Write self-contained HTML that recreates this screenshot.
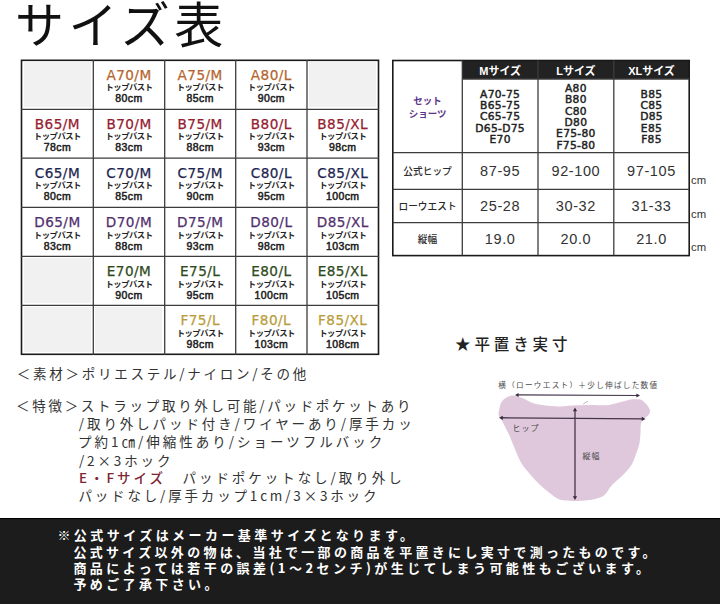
<!DOCTYPE html>
<html lang="ja">
<head>
<meta charset="utf-8">
<style>
*{margin:0;padding:0;box-sizing:border-box}
html,body{width:720px;height:604px;background:#fff;overflow:hidden}
body{position:relative;font-family:"Liberation Sans","Noto Sans CJK JP",sans-serif;color:#222}
.abs{position:absolute}
#title{left:15px;top:-8px;font-size:49px;letter-spacing:4.6px;font-weight:400;color:#111;line-height:60px;white-space:nowrap;font-family:"Noto Sans CJK JP",sans-serif}
.g{position:absolute;background:#f1f1f1}
.cell{position:absolute;text-align:center;line-height:1;white-space:nowrap}
.cell .s{display:block;font-family:"DejaVu Sans","Noto Sans CJK JP",sans-serif;font-size:13.6px;letter-spacing:0.45px;height:13px;line-height:13px;-webkit-text-stroke:0.25px}
.cell .t{display:block;font-family:"Noto Sans CJK JP",sans-serif;font-size:8.3px;font-weight:700;height:10px;line-height:10px;margin-top:1px;color:#222;letter-spacing:-0.45px;position:relative;top:-1.6px}
.cell .c{display:block;position:relative;top:0.5px;font-size:10.5px;font-weight:400;height:11px;line-height:11px;color:#222;-webkit-text-stroke:0.5px #222;letter-spacing:0.4px}
.ca{color:#b5652d}.cb{color:#952030}.cc{color:#1d2550}.cd{color:#52306f}.ce{color:#2e4a1c}.cf{color:#b99d3c}
.rc{position:absolute;display:flex;align-items:center;justify-content:center;text-align:center;white-space:nowrap}
.rh{color:#fff;font-weight:700;font-size:11px;font-family:"Liberation Sans","Noto Sans CJK JP",sans-serif}
.rset{color:#5c3589;font-weight:700;font-size:9.5px;line-height:12.5px;font-family:"Noto Sans CJK JP",sans-serif}
.rlist{color:#222;font-weight:400;font-size:10.7px;line-height:11.3px;font-family:"DejaVu Sans",sans-serif;padding-top:2.5px;-webkit-text-stroke:0.45px #222;letter-spacing:0.3px}
.rlab{color:#2a2a2a;font-weight:500;font-size:9.7px;font-family:"Noto Sans CJK JP",sans-serif}
.rnum{color:#333;font-size:14.5px;letter-spacing:0.6px;font-family:"Liberation Sans",sans-serif}
.cm{position:absolute;left:691px;font-size:11.3px;color:#333;line-height:11px}
.desc{position:absolute;font-family:"Noto Sans CJK JP",sans-serif;font-size:13.5px;color:#333;line-height:17.5px;white-space:nowrap}
.red{color:#7d2633;font-weight:500}
#star{left:455px;top:332.8px;font-size:15.5px;letter-spacing:3.9px;color:#222;font-weight:500;font-family:"Noto Sans CJK JP",sans-serif;white-space:nowrap;line-height:20px}
#banner{position:absolute;left:0;top:517.5px;width:720px;height:87px;background:#1c1c1c;border-top:1.2px solid #000}
.bl{position:absolute;font-family:"Noto Sans CJK JP",sans-serif;font-weight:700;color:#fff;font-size:13px;white-space:nowrap;line-height:16px}
.dl{font-family:"Noto Sans CJK JP",sans-serif;fill:#4a4a4a}
</style>
</head>
<body>
<div id="title" class="abs">サイズ表</div>
<div class="g" style="left:23.5px;top:61.6px;width:67.3px;height:45.9px"></div>
<div class="g" style="left:309.0px;top:61.6px;width:67.0px;height:45.9px"></div>
<div class="g" style="left:23.5px;top:257.6px;width:67.3px;height:45.8px"></div>
<div class="g" style="left:23.5px;top:306.6px;width:67.3px;height:45.8px"></div>
<div class="g" style="left:95.3px;top:306.6px;width:66.9px;height:45.8px"></div>
<div class="abs" style="left:462.3px;top:60.5px;width:226.9px;height:18.5px;background:#222"></div>
<svg class="abs" style="left:0;top:0" width="720" height="604">
 <g stroke="#3c3c3c" stroke-width="1.3" fill="none">
  <rect x="21.5" y="60.3" width="357.0" height="294.0" stroke-width="1.6" stroke="#1a1a1a"/>
  <line x1="93.3" y1="60" x2="93.3" y2="355"/>
<line x1="164.7" y1="60" x2="164.7" y2="355"/>
<line x1="235.7" y1="60" x2="235.7" y2="355"/>
<line x1="307" y1="60" x2="307" y2="355"/>
<line x1="21" y1="109.4" x2="379" y2="109.4"/>
<line x1="21" y1="158.1" x2="379" y2="158.1"/>
<line x1="21" y1="207.3" x2="379" y2="207.3"/>
<line x1="21" y1="256.3" x2="379" y2="256.3"/>
<line x1="21" y1="305.3" x2="379" y2="305.3"/>
  <rect x="392.8" y="60.5" width="296.4" height="195.1" stroke-width="1.6" stroke="#1a1a1a"/>
  <line x1="462.3" y1="60.5" x2="462.3" y2="255.6"/>
<line x1="538" y1="60.5" x2="538" y2="255.6"/>
<line x1="613.8" y1="60.5" x2="613.8" y2="255.6"/>
<line x1="462.3" y1="79" x2="689.2" y2="79"/>
<line x1="392.8" y1="152.6" x2="689.2" y2="152.6"/>
<line x1="392.8" y1="189.4" x2="689.2" y2="189.4"/>
<line x1="392.8" y1="222.6" x2="689.2" y2="222.6"/>
 </g>
</svg>
<div class="cell" style="left:93.3px;top:68.6px;width:71.4px"><span class="s ca">A70/M</span><span class="t">トップバスト</span><span class="c">80cm</span></div>
<div class="cell" style="left:164.7px;top:68.6px;width:71.0px"><span class="s ca">A75/M</span><span class="t">トップバスト</span><span class="c">85cm</span></div>
<div class="cell" style="left:235.7px;top:68.6px;width:71.3px"><span class="s ca">A80/L</span><span class="t">トップバスト</span><span class="c">90cm</span></div>
<div class="cell" style="left:21.5px;top:117.6px;width:71.8px"><span class="s cb">B65/M</span><span class="t">トップバスト</span><span class="c">78cm</span></div>
<div class="cell" style="left:93.3px;top:117.6px;width:71.4px"><span class="s cb">B70/M</span><span class="t">トップバスト</span><span class="c">83cm</span></div>
<div class="cell" style="left:164.7px;top:117.6px;width:71.0px"><span class="s cb">B75/M</span><span class="t">トップバスト</span><span class="c">88cm</span></div>
<div class="cell" style="left:235.7px;top:117.6px;width:71.3px"><span class="s cb">B80/L</span><span class="t">トップバスト</span><span class="c">93cm</span></div>
<div class="cell" style="left:307.0px;top:117.6px;width:71.5px"><span class="s cb">B85/XL</span><span class="t">トップバスト</span><span class="c">98cm</span></div>
<div class="cell" style="left:21.5px;top:166.6px;width:71.8px"><span class="s cc">C65/M</span><span class="t">トップバスト</span><span class="c">80cm</span></div>
<div class="cell" style="left:93.3px;top:166.6px;width:71.4px"><span class="s cc">C70/M</span><span class="t">トップバスト</span><span class="c">85cm</span></div>
<div class="cell" style="left:164.7px;top:166.6px;width:71.0px"><span class="s cc">C75/M</span><span class="t">トップバスト</span><span class="c">90cm</span></div>
<div class="cell" style="left:235.7px;top:166.6px;width:71.3px"><span class="s cc">C80/L</span><span class="t">トップバスト</span><span class="c">95cm</span></div>
<div class="cell" style="left:307.0px;top:166.6px;width:71.5px"><span class="s cc">C85/XL</span><span class="t">トップバスト</span><span class="c">100cm</span></div>
<div class="cell" style="left:21.5px;top:216.2px;width:71.8px"><span class="s cd">D65/M</span><span class="t">トップバスト</span><span class="c">83cm</span></div>
<div class="cell" style="left:93.3px;top:216.2px;width:71.4px"><span class="s cd">D70/M</span><span class="t">トップバスト</span><span class="c">88cm</span></div>
<div class="cell" style="left:164.7px;top:216.2px;width:71.0px"><span class="s cd">D75/M</span><span class="t">トップバスト</span><span class="c">93cm</span></div>
<div class="cell" style="left:235.7px;top:216.2px;width:71.3px"><span class="s cd">D80/L</span><span class="t">トップバスト</span><span class="c">98cm</span></div>
<div class="cell" style="left:307.0px;top:216.2px;width:71.5px"><span class="s cd">D85/XL</span><span class="t">トップバスト</span><span class="c">103cm</span></div>
<div class="cell" style="left:93.3px;top:265.2px;width:71.4px"><span class="s ce">E70/M</span><span class="t">トップバスト</span><span class="c">90cm</span></div>
<div class="cell" style="left:164.7px;top:265.2px;width:71.0px"><span class="s ce">E75/L</span><span class="t">トップバスト</span><span class="c">95cm</span></div>
<div class="cell" style="left:235.7px;top:265.2px;width:71.3px"><span class="s ce">E80/L</span><span class="t">トップバスト</span><span class="c">100cm</span></div>
<div class="cell" style="left:307.0px;top:265.2px;width:71.5px"><span class="s ce">E85/XL</span><span class="t">トップバスト</span><span class="c">105cm</span></div>
<div class="cell" style="left:164.7px;top:314.2px;width:71.0px"><span class="s cf">F75/L</span><span class="t">トップバスト</span><span class="c">98cm</span></div>
<div class="cell" style="left:235.7px;top:314.2px;width:71.3px"><span class="s cf">F80/L</span><span class="t">トップバスト</span><span class="c">103cm</span></div>
<div class="cell" style="left:307.0px;top:314.2px;width:71.5px"><span class="s cf">F85/XL</span><span class="t">トップバスト</span><span class="c">108cm</span></div>
<div class="rc rh" style="left:462.3px;top:60.5px;width:75.7px;height:18.5px;">Mサイズ</div>
<div class="rc rh" style="left:538.0px;top:60.5px;width:75.8px;height:18.5px;">Lサイズ</div>
<div class="rc rh" style="left:613.8px;top:60.5px;width:75.4px;height:18.5px;">XLサイズ</div>
<div class="rc rset" style="left:392.8px;top:60.5px;width:69.5px;height:92.1px;">セット<br>ショーツ</div>
<div class="rc rlist" style="left:462.3px;top:79.0px;width:75.7px;height:73.6px;">A70-75<br>B65-75<br>C65-75<br>D65-D75<br>E70</div>
<div class="rc rlist" style="left:538.0px;top:79.0px;width:75.8px;height:73.6px;">A80<br>B80<br>C80<br>D80<br>E75-80<br>F75-80</div>
<div class="rc rlist" style="left:613.8px;top:79.0px;width:75.4px;height:73.6px;">B85<br>C85<br>D85<br>E85<br>F85</div>
<div class="rc rlab" style="left:392.8px;top:152.6px;width:69.5px;height:36.8px;">公式ヒップ</div>
<div class="rc rnum" style="left:462.3px;top:152.6px;width:75.7px;height:36.8px;">87-95</div>
<div class="rc rnum" style="left:538.0px;top:152.6px;width:75.8px;height:36.8px;">92-100</div>
<div class="rc rnum" style="left:613.8px;top:152.6px;width:75.4px;height:36.8px;">97-105</div>
<div class="rc rlab" style="left:392.8px;top:189.4px;width:69.5px;height:33.2px;">ローウエスト</div>
<div class="rc rnum" style="left:462.3px;top:189.4px;width:75.7px;height:33.2px;">25-28</div>
<div class="rc rnum" style="left:538.0px;top:189.4px;width:75.8px;height:33.2px;">30-32</div>
<div class="rc rnum" style="left:613.8px;top:189.4px;width:75.4px;height:33.2px;">31-33</div>
<div class="rc rlab" style="left:392.8px;top:222.6px;width:69.5px;height:33.0px;">縦幅</div>
<div class="rc rnum" style="left:462.3px;top:222.6px;width:75.7px;height:33.0px;">19.0</div>
<div class="rc rnum" style="left:538.0px;top:222.6px;width:75.8px;height:33.0px;">20.0</div>
<div class="rc rnum" style="left:613.8px;top:222.6px;width:75.4px;height:33.0px;">21.0</div>
<div class="cm" style="top:174.5px">cm</div>
<div class="cm" style="top:208.5px">cm</div>
<div class="cm" style="top:241.5px">cm</div>

<div class="desc" style="left:16.75px;top:364.85px;letter-spacing:2.748px">＜素材＞ポリエステル/ナイロン/その他</div>
<div class="desc" style="left:16.0px;top:397.25px;letter-spacing:2.713px">＜特徴＞ストラップ取り外し可能/パッドポケットあり</div>
<div class="desc" style="left:78.8px;top:415.1px;letter-spacing:2.899px">/取り外しパッド付き/ワイヤーあり/厚手カッ</div>
<div class="desc" style="left:78.0px;top:433.1px;letter-spacing:3.0px">プ約1㎝/伸縮性あり/ショーツフルバック</div>
<div class="desc" style="left:78.9px;top:452.3px;letter-spacing:2.869px">/2×3ホック</div>
<div class="desc" style="left:79.0px;top:469.05px;letter-spacing:2.95px"><span class="red">E・Fサイズ</span>　パッドポケットなし/取り外し</div>
<div class="desc" style="left:78.4px;top:487.05px;letter-spacing:2.83px">パッドなし/厚手カップ1cm/3×3ホック</div>

<div id="star" class="abs">★平置き実寸</div>
<svg class="abs" style="left:0;top:0" width="720" height="604">
 <path d="M511.7,395.5 C514.8,395.0 517.7,396.5 521.0,397.6 C524.3,398.8 527.6,401.1 531.4,402.4 C535.2,403.7 539.3,404.6 543.8,405.3 C548.3,406.0 553.5,406.5 558.3,406.5 C563.1,406.5 567.5,405.8 572.8,405.5 C578.1,405.2 584.5,405.1 590.0,405.0 C595.5,404.9 601.8,405.4 606.0,405.2 C610.2,404.9 612.2,404.1 615.0,403.5 C617.8,402.9 620.4,402.1 623.0,401.5 C625.6,400.9 628.2,400.0 630.5,399.6 C632.8,399.2 635.2,399.1 637.0,399.2 C638.8,399.3 639.9,399.1 641.5,400.0 C643.1,400.9 645.2,402.9 646.6,404.5 C648.0,406.1 649.3,408.4 649.8,409.8 C650.3,411.2 650.0,411.9 649.6,413.0 C649.2,414.1 648.4,415.2 647.3,416.3 C646.1,417.4 643.8,418.4 642.7,419.8 C641.6,421.2 641.2,422.8 640.8,425.0 C640.4,427.2 640.7,430.0 640.5,433.0 C640.3,436.0 640.1,439.8 639.5,443.0 C638.9,446.2 638.0,448.8 636.6,452.5 C635.2,456.2 633.8,461.1 631.4,465.0 C629.0,468.9 625.2,472.7 622.0,476.0 C618.8,479.3 614.9,481.8 612.0,485.0 C609.1,488.2 607.3,492.7 604.5,495.0 C601.7,497.3 598.5,498.1 595.2,499.0 C592.0,499.9 588.2,500.2 585.0,500.5 C581.8,500.8 579.3,501.0 576.0,501.0 C572.7,501.0 568.0,500.8 565.0,500.5 C562.0,500.2 561.1,500.4 558.3,499.0 C555.5,497.6 551.5,494.6 548.0,491.8 C544.5,489.1 541.1,485.9 537.6,482.5 C534.1,479.1 530.2,474.7 527.3,471.1 C524.4,467.5 522.2,464.8 520.0,460.7 C517.8,456.6 515.7,450.8 513.8,446.3 C511.9,441.8 510.5,438.0 508.6,433.8 C506.7,429.6 504.0,424.5 502.4,421.4 C500.8,418.3 499.2,417.3 498.7,415.2 C498.2,413.1 498.7,411.4 499.3,409.0 C499.9,406.6 500.3,402.9 502.4,400.7 C504.5,398.4 508.6,396.0 511.7,395.5Z" fill="#dfc8dc"/>
 <path d="M583.3,404 Q585.5,402.3 587.8,401.4" stroke="#b8b0b8" stroke-width="1" fill="none"/>
 <g stroke="#45354a" stroke-width="1.1" fill="#3a2a40">
  <line x1="517" y1="394.9" x2="638" y2="395.5"/>
  <path d="M515,394.9 l3.6,-2 l0,4 z M640,395.5 l-3.6,-2 l0,4 z" stroke="none"/>
  <line x1="501" y1="417.8" x2="643.5" y2="418.9" stroke-width="1.4"/>
  <path d="M499,417.8 l3.8,-2.1 l0,4.2 z M645.5,418.9 l-3.8,-2.1 l0,4.2 z" stroke="none"/>
  <line x1="575" y1="410" x2="575" y2="497.5" stroke-width="1.3"/>
  <path d="M575,407.5 l-2.1,3.8 l4.2,0 z M575,500 l-2.1,-3.8 l4.2,0 z" stroke="none"/>
 </g>
 <text class="dl" x="498.3" y="388.3" font-size="7.6" letter-spacing="1.3">横（ローウエスト）＋少し伸ばした数値</text>
 <text class="dl" x="512.6" y="430.5" font-size="8" letter-spacing="1">ヒップ</text>
 <text class="dl" x="582.5" y="459.3" font-size="8" letter-spacing="1">縦幅</text>
</svg>

<div id="banner"></div>
<div class="bl" style="left:57.4px;top:526.8px;letter-spacing:3.438px">※公式サイズはメーカー基準サイズとなります。</div>
<div class="bl" style="left:73.4px;top:543.8px;letter-spacing:3.308px">公式サイズ以外の物は、当社で一部の商品を平置きにし実寸で測ったものです。</div>
<div class="bl" style="left:73.4px;top:559.8px;letter-spacing:3.449px">商品によっては若干の誤差(1～2センチ)が生じてしまう可能性もございます。</div>
<div class="bl" style="left:73.4px;top:576.4px;letter-spacing:3.375px">予めご了承下さい。</div>
</body>
</html>
